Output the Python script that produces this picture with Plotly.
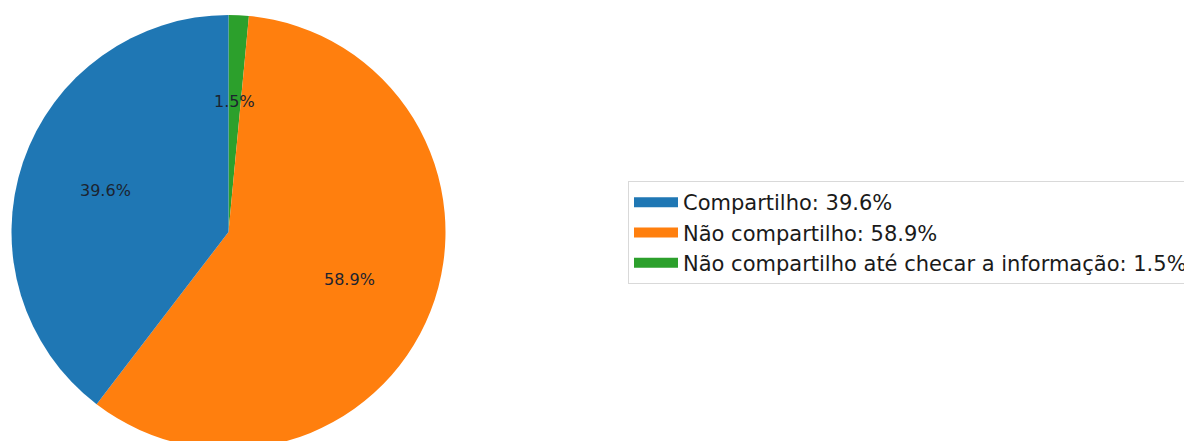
import math
import plotly.graph_objects as go

categories = ["Compartilho", "Não compartilho", "Não compartilho até checar a informação"]
values = [39.6, 58.9, 1.5]
colors = ["#1f77b4", "#ff7f0e", "#2ca02c"]

W, H = 1192, 441
legend_labels = [f"{c}: {v}%" for c, v in zip(categories, values)]

dom_x = [3.5 / W, 437.5 / W]
dom_y = [0.0, 434 / H]

fig = go.Figure()
# matplotlib-style: first slice starts at 12 o'clock and goes counterclockwise.
# Equivalent: reversed order, clockwise.
fig.add_trace(go.Pie(
    labels=legend_labels[::-1],
    values=values[::-1],
    marker=dict(colors=colors[::-1], line=dict(width=0)),
    sort=False,
    direction="clockwise",
    rotation=0,
    textinfo="none",
    hoverinfo="label+percent",
    domain=dict(x=dom_x, y=dom_y),
    showlegend=False,
))

# legend entries drawn as thick line swatches (rectangular patches)
for lab, col in zip(legend_labels, colors):
    fig.add_trace(go.Scatter(
        x=[None], y=[None], mode="lines", name=lab,
        line=dict(color=col, width=15),
        hoverinfo="skip",
    ))

# percentage labels placed at 0.6 radius along each slice's mid-angle
cx_px = (dom_x[0] + dom_x[1]) / 2 * W
cy_px = (dom_y[0] + dom_y[1]) / 2 * H
r_px = min((dom_x[1] - dom_x[0]) * W, (dom_y[1] - dom_y[0]) * H) / 2
total = sum(values)
cum = 0.0
for v in values:
    mid = 90 + 360 * (cum + v / 2) / total
    cum += v
    x_px = cx_px + 0.6 * r_px * math.cos(math.radians(mid))
    y_px = cy_px + 0.6 * r_px * math.sin(math.radians(mid))
    fig.add_annotation(
        x=x_px / W, y=y_px / H, xref="paper", yref="paper",
        xanchor="center", yanchor="middle",
        text=f"{v}%", showarrow=False,
        font=dict(family="DejaVu Sans", size=16, color="#1c2430"),
    )

fig.update_layout(
    width=W, height=H,
    margin=dict(l=0, r=0, t=0, b=0),
    paper_bgcolor="white",
    plot_bgcolor="white",
    showlegend=True,
    xaxis=dict(visible=False),
    yaxis=dict(visible=False),
    legend=dict(
        x=620 / W, y=1 - 173 / H, xanchor="left", yanchor="top",
        bordercolor="#d9d9d9", borderwidth=1,
        font=dict(family="DejaVu Sans", size=21, color="#1a1a1a"),
        traceorder="normal",
        itemwidth=44,
        tracegroupgap=0,
    ),
)

fig.write_html("out.html")
